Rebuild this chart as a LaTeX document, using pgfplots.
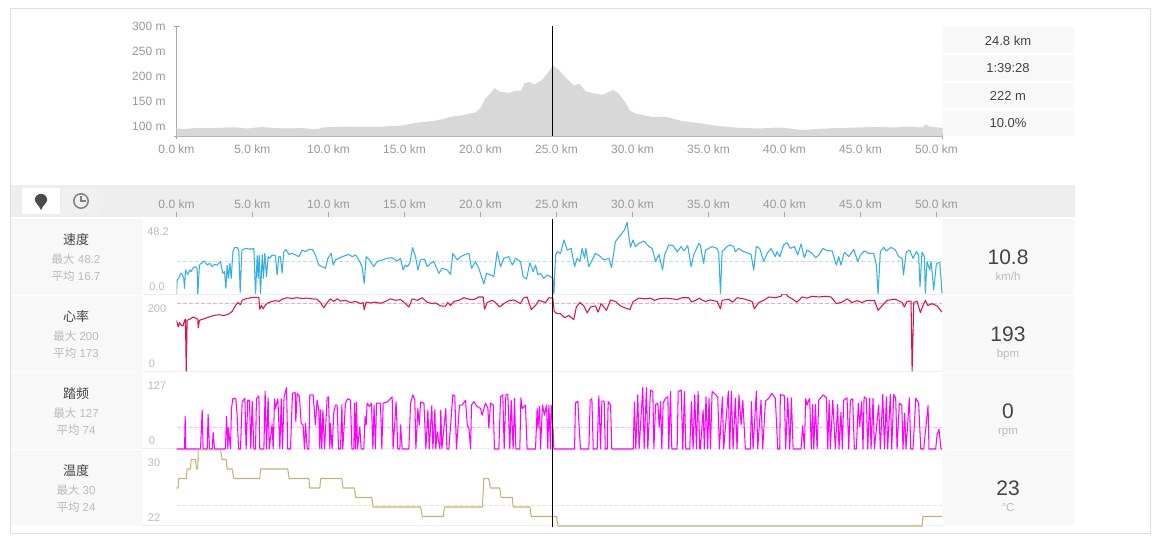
\documentclass[border=0pt]{standalone}
\usepackage{fontspec}
\usepackage{pgfplots}
\pgfplotsset{compat=1.18}
\setmainfont{Liberation Sans}
\newfontfamily\cjk{Noto Sans CJK SC}
\definecolor{frame}{HTML}{DFDFE8}
\definecolor{band}{HTML}{EEEEEE}
\definecolor{cell}{HTML}{F8F8F8}
\definecolor{tick}{HTML}{999999}
\definecolor{lab}{HTML}{BBBBBB}
\definecolor{dark}{HTML}{444444}
\definecolor{elev}{HTML}{D8D8D8}
\definecolor{speed}{HTML}{35AEE6}
\definecolor{speedm}{HTML}{B4E4F6}
\definecolor{hr}{HTML}{E0104E}
\definecolor{hrm}{HTML}{F8A8C0}
\definecolor{cad}{HTML}{FF00FF}
\definecolor{cadm}{HTML}{FFB4FF}
\definecolor{temp}{HTML}{C2B474}
\definecolor{tempm}{HTML}{ECE6C8}
\newcommand\fs[1]{\fontsize{#1}{#1}\selectfont}
\newcommand\lb[5]{\node[text=#3,inner sep=0pt,font=\fs{#4},anchor=base] at (#1,{540-#2-0.36*#4}) {#5};}
\pgfplotsset{row/.style={width=766pt,scale only axis,xmin=0,xmax=50.4,hide axis,clip=true,at={(176.5pt,#1pt)},anchor=south west},
  trace/.style={line width=1.05pt,line join=round,no marks},
  meanl/.style={line width=0.6pt,dash pattern=on 4pt off 2pt,no marks},
  cursor/.style={black,line width=0.8pt,no marks}}
\begin{document}
\begin{tikzpicture}[x=1pt,y=1pt]
\path[use as bounding box,fill=white] (0,0) rectangle (1159,540);
\draw[frame,line width=1pt] (10.7,{540-534}) rectangle (1150.5,{540-8.5});
% stat boxes top
\fill[cell] (942.5,{540-53}) rectangle (1074,{540-27});
\fill[cell] (942.5,{540-81}) rectangle (1074,{540-55});
\fill[cell] (942.5,{540-108}) rectangle (1074,{540-83});
\fill[cell] (942.5,{540-136}) rectangle (1074,{540-110});
\lb{1008}{40.5}{dark}{13}{24.8 km}
\lb{1008}{68}{dark}{13}{1:39:28}
\lb{1008}{95.5}{dark}{13}{222 m}
\lb{1008}{122.5}{dark}{13}{10.0\%}
% toolbar strip
\fill[band] (11,{540-217.5}) rectangle (1074.5,{540-185});
\fill[white] (21.5,{540-214}) rectangle (60,{540-188});
\fill[white!94!black] (62,{540-214}) rectangle (100,{540-188});
\fill[black!70] (41,330) .. controls (39,335) and (35,337) .. (34.8,340) arc[start angle=180,end angle=0,radius=6.2] .. controls (47,337) and (43,335) .. (41,330) -- cycle;
\draw[black!50,line width=1.5pt] (81,339) circle[radius=7.2];
\draw[black!50,line width=1.2pt] (81,344) -- (81,339) -- (85.5,339);
% row cells
\foreach \t/\b in {219/295,296/372,373/449,450/526}{
  \fill[cell] (11,{540-\b}) rectangle (143,{540-\t});
  \fill[cell] (942.5,{540-\b}) rectangle (1074,{540-\t});
}
% separators in chart area
\fill[band] (143,{540-295.5}) rectangle (942.5,{540-294});
\fill[band] (143,{540-372}) rectangle (942.5,{540-371});
\fill[band] (143,{540-449}) rectangle (942.5,{540-448});
\fill[band] (143,{540-526}) rectangle (942.5,{540-525});
% row texts
\lb{76}{240}{dark}{13}{\cjk 速度}
\lb{76}{259}{lab}{11.5}{{\cjk 最大} 48.2}
\lb{76}{276}{lab}{11.5}{{\cjk 平均} 16.7}
\lb{76}{317}{dark}{13}{\cjk 心率}
\lb{76}{336}{lab}{11.5}{{\cjk 最大} 200}
\lb{76}{353}{lab}{11.5}{{\cjk 平均} 173}
\lb{76}{394}{dark}{13}{\cjk 踏频}
\lb{76}{413}{lab}{11.5}{{\cjk 最大} 127}
\lb{76}{430}{lab}{11.5}{{\cjk 平均} 74}
\lb{76}{471}{dark}{13}{\cjk 温度}
\lb{76}{490}{lab}{11.5}{{\cjk 最大} 30}
\lb{76}{507}{lab}{11.5}{{\cjk 平均} 24}
\lb{1008}{257}{dark}{21}{10.8}
\lb{1008}{276}{lab}{11.5}{km/h}
\lb{1008}{333.5}{dark}{21}{193}
\lb{1008}{353}{lab}{11.5}{bpm}
\lb{1008}{411}{dark}{21}{0}
\lb{1008}{430}{lab}{11.5}{rpm}
\lb{1008}{488}{dark}{21}{23}
\lb{1008}{507}{lab}{11.5}{°C}
\lb{158}{232}{lab}{11}{48.2}
\lb{157}{287}{lab}{11}{0.0}
\lb{157}{309}{lab}{11}{200}
\lb{152}{364}{lab}{11}{0}
\lb{157}{386}{lab}{11}{127}
\lb{152}{441}{lab}{11}{0}
\lb{154}{463}{lab}{11}{30}
\lb{154}{518}{lab}{11}{22}
% elevation
\begin{axis}[width=766pt,height=110pt,scale only axis,at={(176.5pt,403.5pt)},anchor=south west,
  xmin=0,xmax=50.4,ymin=80,ymax=300,
  axis lines=left,axis line style={-,draw=black!35,line width=0.9pt},
  xtick={0,5,...,50},xticklabels={0.0 km,5.0 km,10.0 km,15.0 km,20.0 km,25.0 km,30.0 km,35.0 km,40.0 km,45.0 km,50.0 km},
  ytick={100,150,200,250,300},yticklabels={100 m,150 m,200 m,250 m,300 m},
  major tick length=0pt,
  extra x ticks={0,50.4},extra x tick labels={},extra x tick style={major tick length=6pt,tick style={draw=black!35,line width=0.8pt}},
  extra y ticks={80,300},extra y tick labels={},extra y tick style={major tick length=6pt,tick style={draw=black!35,line width=0.8pt}},
  tick label style={font=\fs{12},text=tick,inner sep=0pt},
  x tick label style={yshift=-8.5pt},
  y tick label style={xshift=-10.7pt},
  clip=true]
\addplot[fill=elev,draw=none] coordinates {
(0,96)(.56,95)(1.29,97)(2.26,97)(3.24,98)(3.97,98)(4.70,96)(5.55,99)(6.40,97)(7.38,96)(8.23,97)(8.84,95)(9.32,95)(9.57,98)(10.30,99)(11.51,100)(12.00,99)(12.73,99)(13.71,100)(14.80,102)(15.90,108)(16.87,111)(17.60,115)(17.97,119)(18.70,122)(19.18,125)(19.67,128)(20.03,138)(20.28,154)(20.64,166)(20.93,177)(21.25,170)(21.86,167)(22.23,171)(22.66,171)(22.91,187)(23.20,189)(23.57,184)(24.05,193)(24.42,207)(24.78,222)(25.15,213)(25.63,197)(26.12,183)(26.55,185)(26.91,170)(27.65,165)(28.01,163)(28.38,168)(28.74,173)(29.11,165)(29.47,151)(29.84,132)(30.20,126)(30.81,122)(31.30,119)(32.27,119)(33.24,111)(34.58,106)(35.56,101)(36.77,98)(38.23,96)(39.70,98)(41.16,93)(42.13,95)(43.59,97)(44.81,98)(46.02,99)(47.24,98)(48.09,100)(49.07,98)(49.31,104)(49.55,100)(50.40,97)
} \closedcycle;
\addplot[cursor] coordinates {(24.75,80)(24.75,300)};
\end{axis}
% distance ruler
\begin{axis}[width=766pt,height=5pt,scale only axis,at={(176.5pt,323pt)},anchor=south west,
  xmin=0,xmax=50.4,ymin=0,ymax=1,
  axis x line=top,axis y line=none,axis line style={draw=none,-},
  xtick={0,5,...,50},xticklabels={0.0 km,5.0 km,10.0 km,15.0 km,20.0 km,25.0 km,30.0 km,35.0 km,40.0 km,45.0 km,50.0 km},
  ytick=\empty,
  xticklabel pos=top,
  x tick style={draw=black!35,line width=0.8pt},
  tick align=inside,major tick length=5pt,
  tick label style={font=\fs{12},text=tick,inner sep=0pt},
  x tick label style={yshift=3.5pt}]
\addplot[draw=none] coordinates {(0,0)(50,0)};
\end{axis}
% speed
\begin{axis}[row=245,height=76pt,ymin=-0.67,ymax=50]
\addplot[speedm,meanl] coordinates {(0,21.8)(50.37,21.8)};
\addplot[speed,trace] coordinates {
(0,0)(.04,9.3)(.15,10.4)(.26,13.8)(.37,13.1)(.48,10.4)(.53,3.8)(.59,16)(.75,13.1)(.88,16)(.96,14.9)(1.10,17.6)(1.25,18.2)(1.36,17.1)(1.40,0)(1.51,19.3)(1.69,21.1)(1.84,22)(2.02,19.3)(2.19,20.4)(2.35,18.2)(2.50,19.8)(2.68,19.3)(2.89,21.6)(3.05,13.8)(3.16,14.9)(3.25,3.8)(3.33,19.3)(3.42,10.4)(3.51,20.4)(3.60,10.4)(3.71,28.2)(3.82,30.9)(3.99,31.1)(4.10,29.3)(4.19,1.1)(4.30,29.3)(4.54,30.4)(4.76,30)(4.98,30)(5.09,30.4)(5.20,.4)(5.31,25.6)(5.37,10.4)(5.44,26)(5.53,.4)(5.64,26)(5.72,10.4)(5.81,27.1)(5.92,11.6)(6.03,24.9)(6.14,23.8)(6.29,26)(6.51,25.6)(6.62,12.7)(6.73,24.9)(6.84,24.9)(6.95,13.8)(7.06,28.2)(7.19,29.8)(7.39,26.4)(7.61,27.1)(7.83,26)(8.05,24.9)(8.27,29.3)(8.49,28.2)(8.71,29.8)(8.93,29.8)(9.14,26)(9.36,19.3)(9.58,18.2)(9.80,17.1)(9.96,23.8)(10.18,27.1)(10.31,19.3)(10.46,22.7)(10.68,23.8)(10.90,24.9)(11.12,25.6)(11.34,26.4)(11.56,24.9)(11.78,26)(12.00,22.7)(12.21,18.2)(12.35,7.1)(12.48,24.9)(12.70,22.7)(12.98,18.2)(13.20,21.6)(13.53,22.7)(13.86,23.8)(14.19,24.2)(14.52,22)(14.74,23.8)
(14.91,16)(15.07,19.3)(15.18,18.2)(15.35,20.4)(15.53,30.9)(15.73,24.9)(15.88,16)(16.06,22.7)(16.32,23.3)(16.49,18.2)(16.71,20.4)(16.93,21.6)(17.26,13.8)(17.48,17.1)(17.81,16)(18.03,13.1)(18.18,27.1)(18.47,22.7)(18.69,24.9)(19.02,26.4)(19.24,27.1)(19.41,17.1)(19.67,21.6)(19.89,17.1)(20.11,10.4)(20.22,6.7)(20.40,13.8)(20.66,12.7)(20.88,11.6)(21.10,28.2)(21.32,18.2)(21.54,23.8)(21.87,24.9)(22.09,19.3)(22.31,23.8)(22.63,21.6)(22.81,11.6)(23.03,10)(23.25,20.9)(23.47,14.9)(23.62,19.3)(23.78,12.7)(23.95,13.8)(24.17,10.4)(24.39,12.7)(24.61,11.6)(24.76,10.4)(24.83,0)(24.94,26)(25.05,28.2)(25.27,27.1)(25.49,36)(25.71,29.3)(25.97,30.4)(26.19,18.2)(26.36,23.8)(26.54,21.6)(26.69,30.4)(26.85,23.8)(26.93,30.4)(27.13,18.2)(27.35,22.7)(27.57,27.1)(27.90,24.9)(28.12,22.7)(28.45,23.8)(28.62,17.6)(28.88,34.9)(29.21,39.3)(29.48,42.7)(29.65,47.8)(29.78,37.1)(29.87,31.1)(30.03,36)(30.20,31.6)(30.42,33.8)(30.75,35.3)(31.08,31.6)(31.30,30.4)(31.52,21.6)(31.74,26.4)(31.98,16)(32.11,26)(32.39,32.7)(32.68,32.2)(32.94,28.2)(33.21,31.6)(33.38,28.7)(33.64,32.2)(33.86,18.2)(34.04,26.4)(34.37,33.8)
(34.47,32.7)(34.58,26)(34.69,20.4)(34.80,29.3)(35.02,30.4)(35.24,31.6)(35.57,30.4)(35.68,27.1)(35.79,.4)(35.90,28.2)(36.22,31.6)(36.44,32.7)(36.66,31.6)(36.77,28.2)(36.99,30.4)(37.32,28.2)(37.65,27.1)(37.80,26.4)(37.98,16)(38.15,31.6)(38.37,30.4)(38.64,21.6)(38.86,27.1)(39.12,30.4)(39.40,24.9)(39.51,28.2)(39.69,24.9)(39.95,32.7)(40.17,34.2)(40.39,30.4)(40.65,31.6)(40.87,26)(41.09,33.3)(41.31,24.2)(41.49,29.3)(41.82,27.1)(42.04,24.2)(42.26,26)(42.54,30.4)(42.80,28.9)(43.13,28.7)(43.42,19.3)(43.57,24.9)(43.72,19.3)(43.94,27.8)(44.23,24.9)(44.56,29.8)(44.82,21.6)(45.00,26)(45.26,28.7)(45.54,27.1)(45.87,27.1)(46.05,19.3)(46.16,0)(46.31,28.2)(46.53,31.1)(46.71,28.7)(47.01,31.1)(47.30,29.3)(47.52,24.9)(47.74,23.8)(47.83,12.7)(48.02,28.2)(48.24,29.3)(48.46,23.8)(48.68,28.2)(48.83,26)(48.92,4.9)(49.05,27.8)(49.21,24.9)(49.27,.4)(49.38,21.6)(49.56,16)(49.65,21.6)(49.82,2.7)(50.00,20.4)(50.22,21.1)(50.37,.4)
};
\addplot[cursor] coordinates {(24.75,-0.67)(24.75,50)};
\end{axis}
% heart rate
\begin{axis}[row=168,height=77pt,ymin=-2.7,ymax=205.4]
\addplot[hrm,meanl] coordinates {(0,182)(50.37,182)};
\addplot[hr,trace] coordinates {
(0,137)(.11,119)(.20,131)(.31,123)(.44,123)(.53,137)(.59,140)(.64,0)(.70,137)(.92,141)(1.10,146)(1.25,143)(1.40,140)(1.43,117)(1.51,137)(1.80,141)(2.13,146)(2.46,150)(2.79,152)(3.11,150)(3.44,154)(3.66,161)(3.88,177)(4.04,185)(4.21,179)(4.32,191)(4.54,195)(4.87,198)(5.20,199)(5.42,198)(5.48,167)(5.59,177)(5.70,168)(5.86,179)(6.07,185)(6.29,188)(6.51,190)(6.73,188)(6.95,194)(7.28,198)(7.61,196)(7.94,198)(8.27,196)(8.60,197)(8.93,195)(9.25,194)(9.47,185)(9.69,171)(9.91,185)(10.13,195)(10.35,188)(10.57,195)(10.79,189)(11.12,191)(11.45,185)(11.78,188)(12.11,182)(12.28,185)(12.35,165)(12.48,186)(12.76,184)(13.09,186)(13.42,183)(13.75,188)(14.08,195)(14.41,191)(14.74,193)
(14.96,186)(15.29,173)(15.51,195)(15.84,191)(16.17,198)(16.49,186)(16.82,182)(17.04,184)(17.37,176)(17.70,175)(17.85,185)(18.03,177)(18.25,188)(18.58,191)(18.91,198)(19.24,194)(19.56,193)(19.89,200)(20.18,200)(20.27,167)(20.44,185)(20.77,191)(20.99,185)(21.25,173)(21.54,182)(21.87,190)(22.20,192)(22.63,182)(22.81,197)(23.07,200)(23.34,166)(23.62,177)(23.84,191)(24.06,188)(24.28,185)(24.50,198)(24.76,197)(24.85,161)(25.05,155)(25.27,155)(25.53,144)(25.81,150)(26.14,139)(26.31,173)(26.54,185)(26.80,176)(27.02,157)(27.24,173)(27.57,176)(27.74,159)(27.94,182)(28.29,164)(28.56,192)(28.88,188)(29.21,176)(29.54,170)(29.83,166)(30.05,188)(30.42,197)(30.86,195)(31.19,197)(31.45,191)(31.74,195)(32.18,197)(32.61,195)(32.94,193)(33.27,198)(33.71,198)(33.89,186)(34.15,191)(34.43,197)
(34.47,194)(34.80,188)(35.13,192)(35.57,188)(35.79,168)(35.90,191)(36.33,194)(36.60,186)(36.88,198)(37.32,195)(37.87,188)(38.02,168)(38.31,185)(38.64,191)(38.97,200)(39.40,198)(39.78,202)(39.84,208)(40.13,208)(40.22,202)(40.50,195)(40.83,186)(41.16,200)(41.49,197)(41.82,202)(42.26,200)(42.69,202)(43.07,200)(43.42,182)(43.79,186)(44.12,195)(44.45,185)(44.78,190)(45.11,185)(45.43,191)(45.92,191)(46.16,164)(46.42,176)(46.75,191)(47.30,194)(47.74,185)(47.89,173)(48.07,188)(48.33,189)(48.40,0)(48.51,185)(48.72,189)(48.94,158)(49.12,177)(49.27,191)(49.43,177)(49.71,182)(50.04,176)(50.37,159)
};
\addplot[cursor] coordinates {(24.75,-2.7)(24.75,205.4)};
\end{axis}
% cadence
\begin{axis}[row=90.5,height=77.5pt,ymin=-1,ymax=159.4]
\addplot[cadm,meanl] coordinates {(0,45)(50.37,45)};
\addplot[cad,trace] coordinates {
(0,0)(.53,0)(.57,68)(.61,0)(1.58,0)(1.69,81)(1.75,0)(2.02,0)(2.08,72)(2.17,0)(2.35,0)(2.41,35)(2.50,0)(3.22,0)(3.29,68)(3.38,0)(3.42,44)(3.55,0)(3.62,84)(3.71,105)(3.90,104)(3.99,70)(4.08,0)(4.21,0)(4.32,98)(4.50,105)(4.58,0)(4.69,101)(4.80,101)(4.89,0)(4.98,99)(5.09,0)(5.20,0)(5.26,104)(5.42,110)(5.48,0)(5.75,0)(5.83,120)(5.92,0)(6.03,106)(6.10,0)(6.29,51)(6.36,0)(6.45,104)(6.51,84)(6.67,104)(6.80,0)(6.89,104)(6.97,0)(7.08,108)(7.24,127)(7.32,0)(7.50,0)(7.63,115)(7.81,117)(7.85,57)(7.94,115)(8.09,108)(8.20,53)(8.33,50)(8.42,0)(8.49,53)(8.60,0)(8.71,0)(8.77,112)(8.99,112)(9.14,50)(9.25,101)(9.36,81)(9.43,0)(9.47,81)(9.56,0)(9.63,81)(9.74,0)(9.91,105)(10.00,108)(10.09,0)(10.13,53)(10.24,0)(10.35,76)(10.46,91)(10.57,91)(10.66,0)(10.79,0)(10.88,92)(10.94,0)(11.12,95)(11.27,104)(11.45,101)(11.54,0)(11.67,0)(11.71,95)(11.78,0)(11.84,97)(11.91,0)(12.06,46)(12.15,0)(12.32,0)(12.41,67)(12.48,50)(12.54,95)(12.70,88)(12.83,95)(12.92,0)(13.00,91)(13.09,0)(13.16,95)(13.31,95)(13.42,95)(13.51,0)(13.60,95)(13.86,97)(14.19,108)(14.25,0)(14.45,98)(14.56,0)(14.70,0)
(14.74,50)(14.85,0)(15.29,0)(15.40,95)(15.55,112)(15.68,101)(15.75,0)(15.88,84)(15.97,50)(16.06,97)(16.28,95)(16.41,0)(16.54,81)(16.63,0)(16.80,90)(16.87,0)(17.00,82)(17.06,0)(17.15,36)(17.33,0)(17.39,81)(17.46,0)(17.72,84)(17.79,0)(17.92,0)(18.18,112)(18.31,110)(18.42,0)(18.62,91)(18.80,91)(19.02,101)(19.13,50)(19.24,43)(19.35,0)(19.41,91)(19.56,98)(19.78,88)(20.00,84)(20.11,70)(20.33,95)(20.49,84)(20.55,43)(20.66,95)(20.84,91)(20.92,0)(21.21,0)(21.32,108)(21.47,112)(21.56,0)(21.67,112)(21.80,113)(21.93,0)(22.02,101)(22.15,0)(22.24,105)(22.33,0)(22.59,0)(22.66,106)(22.74,84)(22.96,91)(23.07,0)(23.62,0)(23.73,84)(23.78,43)(23.88,88)(23.95,0)(24.08,91)(24.21,70)(24.35,91)(24.43,0)(24.50,91)(24.61,0)(24.65,91)(24.78,36)(24.83,0)(26.19,0)(26.25,95)(26.41,99)(26.49,46)(26.58,0)(27.13,0)(27.22,101)(27.33,104)(27.42,0)(27.68,0)(27.79,110)(27.90,0)(27.99,99)(28.14,99)(28.21,0)(28.34,0)(28.40,98)(28.56,91)(28.64,0)(30.05,0)(30.13,97)(30.22,0)(30.35,112)(30.44,0)(30.68,127)(30.77,0)(30.92,127)(31.01,0)(31.19,122)(31.34,119)(31.41,0)(31.52,92)(31.67,95)(31.76,46)(31.85,98)(31.93,0)(32.02,95)(32.17,105)(32.33,108)(32.39,0)(32.50,119)(32.59,0)(32.94,0)(33.01,119)(33.21,122)(33.31,0)(33.42,119)(33.51,0)(33.77,0)(33.88,98)(33.99,0)(34.10,112)(34.21,0)(34.32,119)(34.43,0)
(34.47,0)(34.65,81)(34.73,0)(34.84,108)(34.95,0)(35.04,105)(35.13,0)(35.24,119)(35.46,113)(35.61,108)(35.72,0)(35.92,108)(36.00,0)(36.31,120)(36.40,0)(36.51,120)(36.62,0)(36.77,105)(36.88,0)(37.01,112)(37.15,50)(37.26,101)(37.43,0)(37.76,0)(37.83,98)(37.94,0)(38.15,120)(38.24,0)(38.46,101)(38.57,0)(38.75,99)(38.97,105)(39.16,115)(39.40,105)(39.56,0)(39.69,0)(39.73,113)(40.00,110)(40.08,0)(40.22,106)(40.35,0)(40.46,106)(40.57,0)(41.09,0)(41.20,48)(41.31,0)(41.40,104)(41.49,91)(41.66,105)(41.77,0)(41.86,92)(41.93,0)(42.04,92)(42.15,0)(42.26,101)(42.54,112)(42.76,106)(42.85,0)(42.94,101)(43.02,0)(43.18,101)(43.35,0)(43.50,92)(43.59,0)(43.72,76)(43.81,0)(43.90,101)(44.12,106)(44.23,0)(44.34,101)(44.49,104)(44.60,0)(44.73,0)(44.86,95)(44.95,46)(45.08,98)(45.17,0)(45.24,108)(45.39,104)(45.48,0)(45.61,105)(45.70,0)(45.83,105)(45.92,0)(46.20,91)(46.31,0)(46.47,113)(46.58,0)(46.71,108)(46.79,0)(46.97,113)(47.06,0)(47.19,113)(47.32,105)(47.41,0)(47.56,95)(47.72,91)(47.80,0)(47.91,74)(48.00,0)(48.22,106)(48.31,0)(48.46,0)(48.64,105)(48.83,95)(48.97,0)(49.16,0)(49.45,90)(49.51,0)(49.95,0)(50.04,29)(50.17,41)(50.30,0)(50.37,0)
};
\addplot[cursor] coordinates {(24.75,-1)(24.75,159.4)};
\end{axis}
% temperature
\begin{axis}[row=13,height=77.5pt,ymin=21.895,ymax=30.05]
\addplot[tempm,meanl] coordinates {(0,24.2)(50.37,24.2)};
\addplot[temp,trace] coordinates {
(0,26)(.11,26)(.15,27)(.64,27)(.70,28)(.92,28)(.96,29)(1.25,29)(1.32,28)(1.40,28)(1.43,30)(2.90,30)(3.00,29)(3.27,29)(3.33,28)(3.66,28)(3.77,27)(5.48,27)(5.53,28)(7.32,28)(7.41,27)(8.71,27)(8.77,26)(9.43,26)(9.49,27)(10.88,27)(10.96,26)(11.71,26)(11.80,25)(12.85,25)(12.94,24)(16.06,24)(16.17,23)(17.55,23)(17.63,24)(20.11,24)(20.16,25)(20.22,27)(20.55,27)(20.64,26)(21.27,26)(21.36,25)(22.09,25)(22.15,24)(23.25,24)(23.34,23)(25.00,23)(25.11,22)(49.05,22)(49.12,23)(50.37,23)
};
\addplot[cursor] coordinates {(24.75,21.895)(24.75,30.05)};
\end{axis}
\end{tikzpicture}
\end{document}
